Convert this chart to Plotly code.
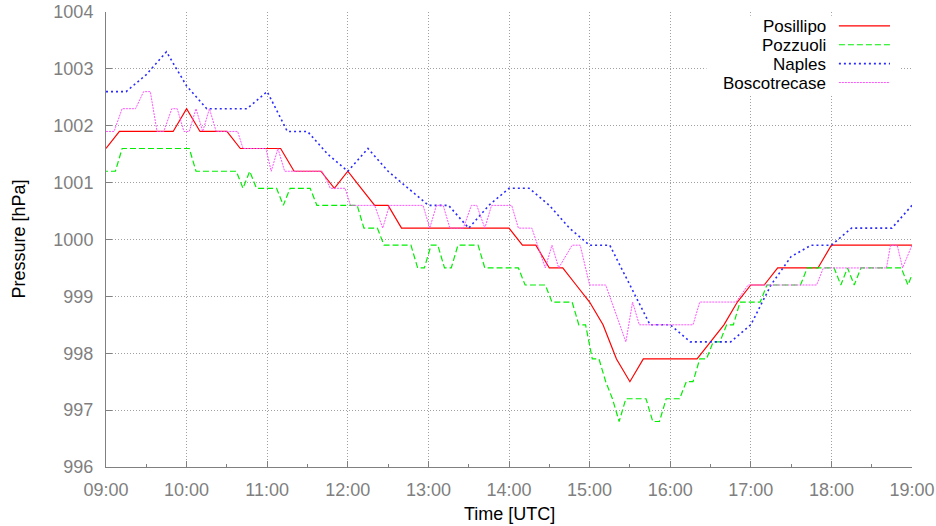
import plotly.graph_objects as go
from datetime import datetime, timedelta

DAY = "2000-01-01"

# --- station readings (hPa) ---------------------------------------------

# Posillipo: every 10 minutes from 09:00
posillipo_start, posillipo_step = "09:00", 10
posillipo_hpa = [
    1001.6, 1001.9, 1001.9, 1001.9, 1001.9, 1001.9,
    1002.3, 1001.9, 1001.9, 1001.9, 1001.6, 1001.6,
    1001.6, 1001.6, 1001.2, 1001.2, 1001.2, 1000.9,
    1001.2, 1000.9, 1000.6, 1000.6, 1000.2, 1000.2,
    1000.2, 1000.2, 1000.2, 1000.2, 1000.2, 1000.2,
    1000.2, 999.9, 999.9, 999.5, 999.5, 999.2,
    998.9, 998.5, 997.9, 997.5, 997.9, 997.9,
    997.9, 997.9, 997.9, 998.2, 998.5, 998.9,
    999.2, 999.2, 999.5, 999.5, 999.5, 999.5,
    999.9, 999.9, 999.9, 999.9, 999.9, 999.9,
    999.9,
]

# Pozzuoli: every 5 minutes from 08:57
pozzuoli_start, pozzuoli_step = "08:57", 5
pozzuoli_hpa = [
    1001.2,
    1001.2, 1001.2, 1001.6, 1001.6, 1001.6, 1001.6, 1001.6, 1001.6, 1001.6, 1001.6, 1001.6, 1001.6,
    1001.6, 1001.2, 1001.2, 1001.2, 1001.2, 1001.2, 1001.2, 1001.2, 1000.9, 1001.2, 1000.9, 1000.9,
    1000.9, 1000.9, 1000.6, 1000.9, 1000.9, 1000.9, 1000.9, 1000.6, 1000.6, 1000.6, 1000.6, 1000.6,
    1000.6, 1000.6, 1000.2, 1000.2, 1000.2, 999.9, 999.9, 999.9, 999.9, 999.9, 999.5, 999.5,
    999.9, 999.9, 999.5, 999.5, 999.9, 999.9, 999.9, 999.9, 999.5, 999.5, 999.5, 999.5,
    999.5, 999.5, 999.2, 999.2, 999.2, 999.2, 998.9, 998.9, 998.9, 998.9, 998.5, 998.5,
    997.9, 997.9, 997.5, 997.2, 996.8, 997.2, 997.2, 997.2, 997.2, 996.8, 996.8, 997.2,
    997.2, 997.2, 997.5, 997.5, 997.9, 997.9, 998.2, 998.2, 998.5, 998.5, 998.9, 998.9,
    998.9, 998.9, 999.2, 999.2, 999.2, 999.2, 999.2, 999.2, 999.5, 999.5, 999.5, 999.5,
    999.5, 999.2, 999.5, 999.2, 999.5, 999.5, 999.5, 999.5, 999.5, 999.5, 999.5, 999.2,
    999.5,
]

# Naples: every 15 minutes from 09:00
naples_start, naples_step = "09:00", 15
naples_hpa = [
    1002.6, 1002.6, 1002.9, 1003.3,
    1002.7, 1002.3, 1002.3, 1002.3,
    1002.6, 1001.9, 1001.9, 1001.5,
    1001.2, 1001.6, 1001.2, 1000.9,
    1000.6, 1000.6, 1000.2, 1000.6,
    1000.9, 1000.9, 1000.6, 1000.2,
    999.9, 999.9, 999.2, 998.5,
    998.5, 998.2, 998.2, 998.2,
    998.5, 999.2, 999.7, 999.9,
    999.9, 1000.2, 1000.2, 1000.2,
    1000.6,
]

# Boscotrecase: irregular reporting times
boscotrecase_time = [
    "09:00", "09:06", "09:12", "09:22", "09:28", "09:33", "09:38", "09:43",
    "09:49", "09:53", "09:58", "10:02", "10:07", "10:12", "10:17", "10:22",
    "10:38", "10:42", "10:59", "11:03", "11:08", "11:13", "11:41", "11:47",
    "11:58", "12:02", "12:20", "12:26", "12:31", "12:56", "13:01", "13:06",
    "13:11", "13:16", "13:26", "13:32", "13:36", "13:42", "13:47", "14:02",
    "14:07", "14:17", "14:27", "14:32", "14:37", "14:47", "14:53", "15:00",
    "15:12", "15:27", "15:32", "15:37", "16:17", "16:22", "16:49", "16:58",
    "17:49", "17:54", "18:41", "18:44", "18:49", "18:53", "19:00",
]
boscotrecase_hpa = [
    1001.9, 1001.9, 1002.3, 1002.3, 1002.6, 1002.6, 1001.9, 1001.9,
    1002.3, 1002.3, 1001.9, 1001.9, 1002.3, 1001.9, 1002.3, 1001.9,
    1001.9, 1001.6, 1001.6, 1001.2, 1001.6, 1001.2, 1001.2, 1000.9,
    1000.9, 1000.6, 1000.6, 1000.2, 1000.6, 1000.6, 1000.2, 1000.6,
    1000.6, 1000.2, 1000.2, 1000.6, 1000.6, 1000.2, 1000.6, 1000.6,
    1000.2, 1000.2, 999.5, 999.9, 999.5, 999.9, 999.9, 999.2,
    999.2, 998.2, 998.9, 998.5, 998.5, 998.9, 998.9, 999.2,
    999.2, 999.5, 999.5, 999.9, 999.9, 999.5, 999.9,
]

x_ticks = ["09:00", "10:00", "11:00", "12:00", "13:00", "14:00",
           "15:00", "16:00", "17:00", "18:00", "19:00"]
y_ticks = [996, 997, 998, 999, 1000, 1001, 1002, 1003, 1004]


def stamp(hhmm):
    return f"{DAY} {hhmm}"


def regular(start, step, n):
    t0 = datetime.fromisoformat(stamp(start))
    return [(t0 + timedelta(minutes=step * i)).strftime("%Y-%m-%d %H:%M")
            for i in range(n)]


series = [
    ("Posillipo", regular(posillipo_start, posillipo_step, len(posillipo_hpa)),
     posillipo_hpa, "#ff0000", "solid", 1.2),
    ("Pozzuoli", regular(pozzuoli_start, pozzuoli_step, len(pozzuoli_hpa)),
     pozzuoli_hpa, "#00ee00", "6px,3px", 1.2),
    ("Naples", regular(naples_start, naples_step, len(naples_hpa)),
     naples_hpa, "#2a2aff", "2px,3px", 1.6),
    ("Boscotrecase", [stamp(t) for t in boscotrecase_time],
     boscotrecase_hpa, "#ff55ff", "2px,1px", 1.0),
]

FONT = "Liberation Sans, Arial, sans-serif"
TICK_GREY = "#7f7f7f"
GRID_GREY = "#a0a0a0"
GRID_DASH = "1px,2px"

fig = go.Figure()
for name, t, p, color, dash, width in series:
    fig.add_trace(go.Scatter(
        x=t, y=p, mode="lines", name=name, showlegend=False,
        line=dict(color=color, dash=dash, width=width),
    ))

fig.update_layout(
    width=936, height=526,
    margin=dict(l=106, r=24, t=12, b=59, autoexpand=False),
    paper_bgcolor="white", plot_bgcolor="white",
    font=dict(family=FONT, size=18, color="black"),
    showlegend=False,
)

fig.update_xaxes(
    type="date",
    range=[stamp(x_ticks[0]), stamp(x_ticks[-1])],
    tickvals=[stamp(t) for t in x_ticks], ticktext=x_ticks,
    tickfont=dict(color=TICK_GREY, size=18),
    ticks="inside", ticklen=6, tickcolor="#808080",
    showline=True, linecolor="#808080", linewidth=1,
    showgrid=True, gridcolor=GRID_GREY, griddash=GRID_DASH, gridwidth=1,
    minor=dict(dtick=30 * 60 * 1000, ticks="inside", ticklen=3,
               tickcolor="#808080", showgrid=False),
    zeroline=False, mirror=False, automargin=False,
    ticklabelstandoff=6,
)
fig.update_yaxes(
    range=[y_ticks[0], y_ticks[-1]],
    tickvals=y_ticks,
    tickfont=dict(color=TICK_GREY, size=18),
    ticks="inside", ticklen=6, tickcolor="#808080",
    showline=True, linecolor="#808080", linewidth=1,
    showgrid=True, gridcolor=GRID_GREY, griddash=GRID_DASH, gridwidth=1,
    zeroline=False, mirror=False, automargin=False,
    ticklabelstandoff=8,
)

# axis titles
fig.add_annotation(text="Time [UTC]", xref="paper", yref="paper",
                   x=0.5, y=0, yshift=-47, showarrow=False,
                   xanchor="center", yanchor="middle",
                   font=dict(size=18, color="black"))
fig.add_annotation(text="Pressure [hPa]", xref="paper", yref="paper",
                   x=0, y=0.5, xshift=-88, showarrow=False, textangle=-90,
                   xanchor="center", yanchor="middle",
                   font=dict(size=18, color="black"))

# key in the upper right: label first, then a sample of the line
fig.add_shape(type="rect", xref="paper", yref="paper",
              x0=0.745, x1=0.984, y0=0.8155, y1=0.992,
              fillcolor="white", line=dict(width=0), layer="above")
row_y = [0.9695, 0.928, 0.8865, 0.845]
for (name, _, _, color, dash, width), ry in zip(series, row_y):
    fig.add_annotation(text=name, xref="paper", yref="paper",
                       x=0.8957, y=ry, showarrow=False,
                       xanchor="right", yanchor="middle",
                       font=dict(size=17, color="black"),
                       height=18, valign="middle")
    fig.add_shape(type="line", xref="paper", yref="paper",
                  x0=0.9093, x1=0.9727, y0=ry, y1=ry, layer="above",
                  line=dict(color=color, dash=dash, width=width))

fig.write_html("out.html")
